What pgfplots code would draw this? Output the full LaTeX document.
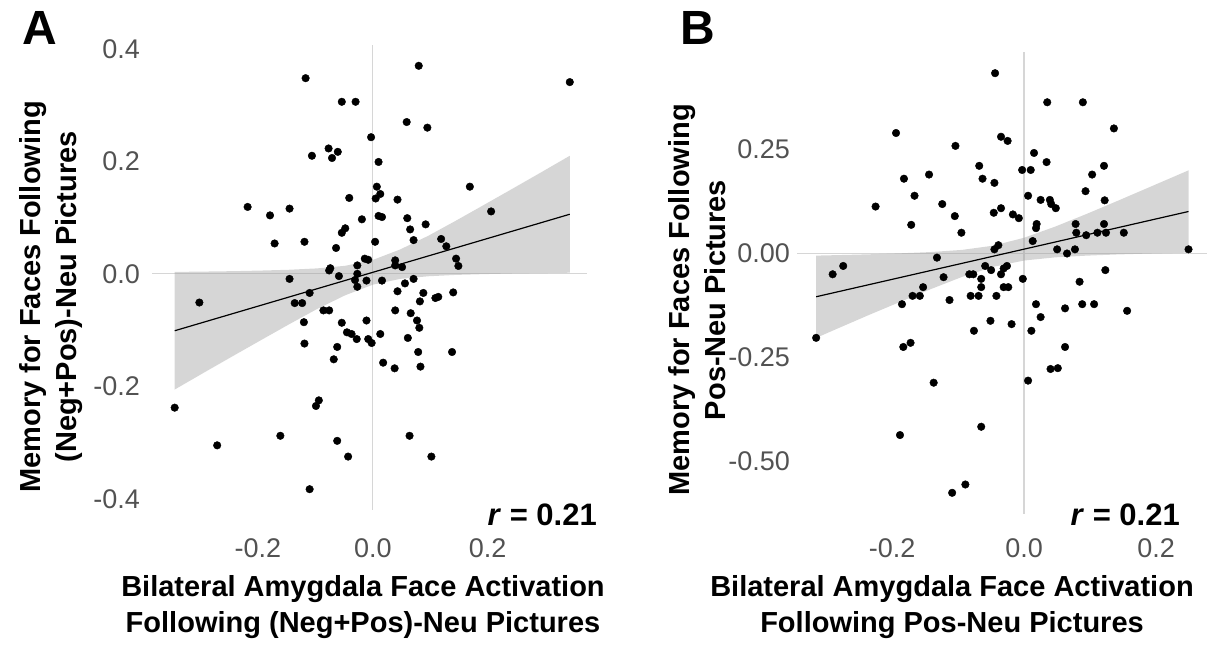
\documentclass[border=0pt]{standalone}
\usepackage{fontspec}
\setmainfont{Liberation Sans}
\usepackage{pgfplots}
\pgfplotsset{compat=1.18}
\definecolor{bandc}{gray}{0.6}
\definecolor{refc}{gray}{0.84}
\definecolor{tickc}{gray}{0.32}
\pgfplotsset{
  panel/.style={
    scale only axis, axis line style={draw=none}, major tick length=0pt,
    tick style={draw=none}, clip=false,
    tick label style={font=\fontsize{27}{29}\selectfont, color=tickc, inner sep=0pt},
  },
  pts/.style={only marks, mark=*, mark size=3.8pt, mark options={fill=black, draw=none}, black},
  band/.style={fill=bandc, fill opacity=0.4, draw=none},
  fitl/.style={black, line width=1.2pt},
  refl/.style={refc, line width=1.3pt},
}
\newcommand{\ttl}{\fontsize{29}{31}\selectfont\bfseries}
\begin{document}
\begin{tikzpicture}[x=1pt,y=1pt]
\useasboundingbox (0,0) rectangle (1215,653);
% ---------------- Panel A ----------------
\begin{axis}[panel, at={(152pt,143pt)}, anchor=south west, width=435pt, height=465pt,
  xmin=-0.3845, xmax=0.373, ymin=-0.420, ymax=0.407,
  xtick={-0.2,0,0.2}, xticklabels={-0.2,0.0,0.2},
  ytick={-0.4,-0.2,0,0.2,0.4}, yticklabels={-0.4,-0.2,0.0,0.2,0.4},
  xticklabel style={anchor=north, yshift=-28pt},
  yticklabel style={anchor=east, xshift=-12pt},
]
\addplot[refl] coordinates {(0,-0.420) (0,0.407)};
\addplot[refl] coordinates {(-0.3845,0) (0.373,0)};
\addplot[pts] table {
x y
-0.117 0.348
0.080 0.370
0.343 0.341
-0.054 0.306
-0.030 0.306
0.059 0.270
0.095 0.260
-0.003 0.243
-0.077 0.223
-0.061 0.217
-0.106 0.210
-0.071 0.206
0.010 0.199
0.007 0.155
0.169 0.155
0.013 0.142
0.005 0.134
-0.041 0.135
0.043 0.132
-0.218 0.119
-0.145 0.116
-0.179 0.104
0.206 0.111
0.010 0.103
0.016 0.101
-0.019 0.097
0.060 0.099
0.092 0.088
0.065 0.079
-0.048 0.081
-0.054 0.073
-0.171 0.054
-0.119 0.057
0.004 0.057
0.071 0.060
0.119 0.062
0.128 0.049
-0.064 0.046
-0.014 0.027
-0.008 0.025
0.039 0.024
0.145 0.027
0.149 0.014
-0.074 0.010
-0.076 0.006
-0.027 0.015
0.039 0.015
0.051 0.012
-0.145 -0.009
-0.059 -0.004
-0.027 0.000
-0.031 -0.011
-0.011 -0.012
0.016 -0.012
0.071 -0.009
0.056 -0.017
-0.027 -0.023
-0.302 -0.051
-0.136 -0.052
-0.123 -0.052
-0.110 -0.034
0.043 -0.031
0.088 -0.034
0.109 -0.043
0.114 -0.041
0.140 -0.033
0.082 -0.049
-0.086 -0.065
-0.076 -0.065
0.039 -0.065
0.066 -0.070
-0.120 -0.086
-0.054 -0.087
-0.011 -0.083
0.077 -0.083
0.081 -0.096
-0.045 -0.104
-0.037 -0.107
-0.028 -0.116
-0.008 -0.116
-0.002 -0.123
0.013 -0.107
0.061 -0.114
-0.119 -0.124
-0.062 -0.130
-0.068 -0.152
0.018 -0.158
0.038 -0.168
0.079 -0.139
0.083 -0.165
0.138 -0.139
-0.094 -0.225
-0.099 -0.235
-0.345 -0.238
-0.271 -0.305
-0.161 -0.288
-0.062 -0.297
-0.043 -0.325
0.064 -0.288
0.102 -0.325
-0.110 -0.383
};
\addplot[band] coordinates {
(-0.345,0.0034) (-0.290,0.0041) (-0.2415,0.0048) (-0.193,0.0059) (-0.145,0.0073) (-0.097,0.0097) (-0.048,0.0143) (0,0.0247) (0.048,0.0435) (0.097,0.0679) (0.145,0.0947) (0.193,0.1223) (0.2415,0.1504) (0.290,0.1787) (0.343,0.2100)
(0.343,0.0020) (0.290,0.0013) (0.2415,0.0006) (0.193,-0.0005) (0.145,-0.0019) (0.097,-0.0043) (0.048,-0.0089) (0,-0.0193) (-0.048,-0.0381) (-0.097,-0.0625) (-0.145,-0.0893) (-0.193,-0.1169) (-0.2415,-0.1450) (-0.290,-0.1733) (-0.345,-0.2058)
};
\addplot[fitl] coordinates {(-0.345,-0.1012) (0.343,0.1060)};
\end{axis}
% ---------------- Panel B ----------------
\begin{axis}[panel, at={(797pt,139pt)}, anchor=south west, width=410pt, height=462pt,
  xmin=-0.344, xmax=0.277, ymin=-0.627, ymax=0.485,
  xtick={-0.2,0,0.2}, xticklabels={-0.2,0.0,0.2},
  ytick={-0.5,-0.25,0,0.25}, yticklabels={-0.50,-0.25,0.00,0.25},
  xticklabel style={anchor=north, yshift=-24pt},
  yticklabel style={anchor=east, xshift=-7pt},
]
\addplot[refl] coordinates {(0,-0.627) (0,0.485)};
\addplot[refl] coordinates {(-0.344,0) (0.277,0)};
\addplot[pts] table {
x y
-0.044 0.434
0.035 0.364
0.089 0.364
0.136 0.301
-0.194 0.290
-0.035 0.281
-0.025 0.271
-0.104 0.259
0.015 0.242
0.034 0.220
-0.068 0.211
0.121 0.211
-0.003 0.201
0.010 0.201
-0.182 0.180
-0.144 0.190
-0.063 0.180
0.103 0.190
-0.045 0.170
-0.166 0.139
0.006 0.139
0.093 0.150
0.025 0.129
0.039 0.129
0.122 0.128
-0.225 0.113
-0.124 0.119
0.041 0.119
0.048 0.109
-0.035 0.109
-0.046 0.098
-0.017 0.094
-0.008 0.085
-0.105 0.090
-0.171 0.069
-0.095 0.050
0.019 0.071
0.018 0.061
0.078 0.071
0.121 0.071
0.079 0.050
0.094 0.044
0.111 0.050
0.124 0.050
0.151 0.050
0.013 0.030
-0.039 0.020
-0.045 0.010
0.050 0.010
0.065 0.000
0.077 0.010
0.249 0.010
-0.132 -0.010
-0.274 -0.030
-0.059 -0.030
-0.031 -0.036
-0.026 -0.030
0.123 -0.040
-0.290 -0.050
-0.050 -0.040
-0.035 -0.050
-0.083 -0.050
-0.077 -0.050
-0.122 -0.057
-0.065 -0.061
-0.002 -0.061
-0.153 -0.081
-0.169 -0.102
-0.158 -0.102
-0.065 -0.081
-0.031 -0.081
-0.024 -0.081
0.084 -0.068
-0.185 -0.122
-0.113 -0.112
-0.081 -0.102
-0.069 -0.102
-0.042 -0.102
0.018 -0.122
0.062 -0.132
0.088 -0.122
0.106 -0.122
0.156 -0.138
-0.051 -0.162
-0.019 -0.170
0.025 -0.153
-0.076 -0.186
0.011 -0.186
-0.315 -0.203
-0.183 -0.225
-0.172 -0.215
0.062 -0.225
0.040 -0.278
0.051 -0.276
-0.137 -0.311
0.006 -0.306
-0.065 -0.417
-0.188 -0.437
-0.089 -0.556
-0.109 -0.576
};
\addplot[band] coordinates {
(-0.315,-0.0051) (-0.283,-0.0039) (-0.236,-0.0020) (-0.188,0.0004) (-0.141,0.0035) (-0.094,0.0087) (-0.047,0.0188) (0,0.0379) (0.047,0.0647) (0.094,0.0948) (0.141,0.1263) (0.188,0.1584) (0.249,0.2001)
(0.249,0.0021) (0.188,-0.0002) (0.141,-0.0023) (0.094,-0.0052) (0.047,-0.0093) (0,-0.0169) (-0.047,-0.0322) (-0.094,-0.0563) (-0.141,-0.0855) (-0.188,-0.1166) (-0.236,-0.1486) (-0.283,-0.1809) (-0.315,-0.2031)
};
\addplot[fitl] coordinates {(-0.315,-0.1041) (0.249,0.1011)};
\end{axis}
% ---------------- Titles ----------------
\node[anchor=base west, inner sep=0pt, font=\fontsize{48}{50}\selectfont\bfseries] at (22,608) {A};
\node[anchor=base west, inner sep=0pt, font=\fontsize{48}{50}\selectfont\bfseries] at (680,608) {B};
\node[anchor=base east, inner sep=0pt, font=\fontsize{31}{33}\selectfont\bfseries] at (597,127) {\textit{r} = 0.21};
\node[anchor=base east, inner sep=0pt, font=\fontsize{31}{33}\selectfont\bfseries] at (1180,127) {\textit{r} = 0.21};
\node[anchor=base, inner sep=0pt, font=\ttl] at (363,56) {Bilateral Amygdala Face Activation};
\node[anchor=base, inner sep=0pt, font=\ttl] at (363,20) {Following (Neg+Pos)-Neu Pictures};
\node[anchor=base, inner sep=0pt, font=\ttl] at (952,56) {Bilateral Amygdala Face Activation};
\node[anchor=base, inner sep=0pt, font=\ttl] at (952,20) {Following Pos-Neu Pictures};
\node[anchor=base, rotate=90, inner sep=0pt, font=\ttl] at (40,356) {Memory for Faces Following};
\node[anchor=base, rotate=90, inner sep=0pt, font=\ttl] at (76,356) {(Neg+Pos)-Neu Pictures};
\node[anchor=base, rotate=90, inner sep=0pt, font=\ttl] at (689,353) {Memory for Faces Following};
\node[anchor=base, rotate=90, inner sep=0pt, font=\ttl] at (725,353) {Pos-Neu Pictures};
\end{tikzpicture}
\end{document}
